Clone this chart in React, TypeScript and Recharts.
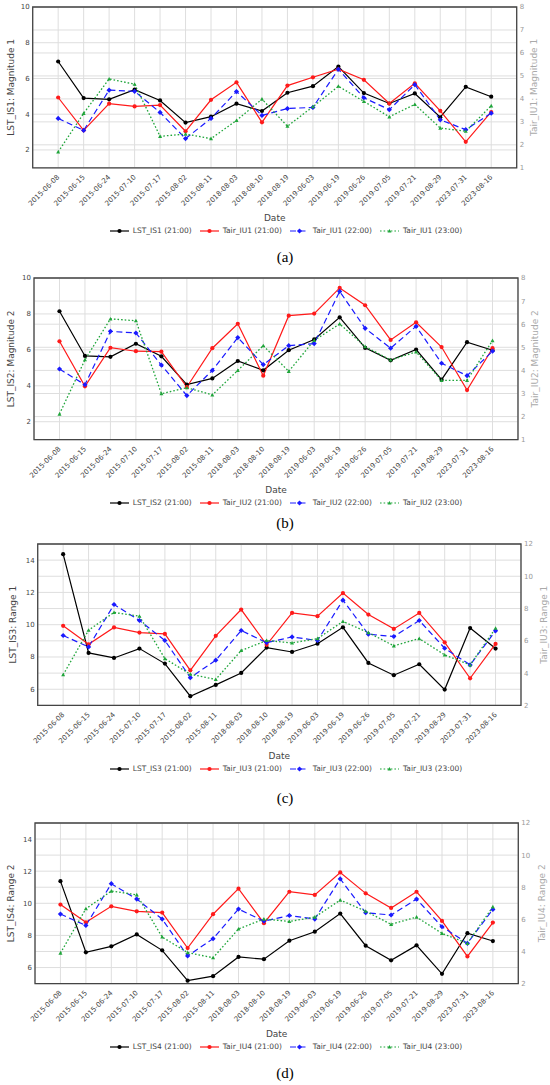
import React from 'react';
import { LineChart, Line, XAxis, YAxis, CartesianGrid, Legend, ReferenceArea, Label } from 'recharts';

const dates = [
  '2015-06-08', '2015-06-15', '2015-06-24', '2015-07-10', '2015-07-17', '2015-08-02',
  '2015-08-11', '2018-08-03', '2018-08-10', '2018-08-19', '2019-06-03', '2019-06-19',
  '2019-06-26', '2019-07-05', '2019-07-21', '2019-08-29', '2023-07-31', '2023-08-16',
];

// Panel (a)
const lstIS1 = [6.95, 4.9, 4.83, 5.37, 4.77, 3.53, 3.86, 4.59, 4.18, 5.2, 5.57, 6.67, 5.18, 4.6, 5.16, 3.83, 5.53, 4.98];
const tairIU1_21 = [4.06, 2.63, 3.79, 3.67, 3.73, 2.59, 3.96, 4.72, 2.98, 4.58, 4.94, 5.29, 4.83, 3.8, 4.68, 3.48, 2.13, 3.43];
const tairIU1_22 = [3.15, 2.63, 4.38, 4.33, 3.41, 2.27, 3.15, 4.32, 3.28, 3.58, 3.63, 5.29, 4.05, 3.53, 4.62, 3.09, 2.66, 3.38];
const tairIU1_23 = [1.69, 3.37, 4.87, 4.64, 2.37, 2.47, 2.27, 3.06, 3.99, 2.81, 3.66, 4.55, 3.89, 3.22, 3.76, 2.73, 2.59, 3.7];

// Panel (b)
const lstIS2 = [8.15, 5.66, 5.61, 6.34, 5.64, 4.07, 4.41, 5.38, 4.86, 5.98, 6.58, 7.81, 6.11, 5.42, 6.02, 4.34, 6.43, 5.98];
const tairIU2_21 = [5.26, 3.31, 4.98, 4.83, 4.81, 3.28, 4.96, 6.02, 3.77, 6.37, 6.46, 7.57, 6.82, 5.32, 6.08, 5.01, 3.15, 4.96];
const tairIU2_22 = [4.06, 3.38, 5.69, 5.62, 4.23, 2.91, 4.0, 5.42, 4.25, 5.07, 5.16, 7.42, 5.82, 4.96, 5.91, 4.31, 3.77, 4.83];
const tairIU2_23 = [2.11, 4.46, 6.23, 6.15, 2.99, 3.25, 2.94, 4.0, 5.07, 3.96, 5.3, 6.01, 5.03, 4.45, 4.8, 3.57, 3.57, 5.29];

// Panel (c)
const lstIS3 = [14.37, 8.25, 7.94, 8.52, 7.59, 5.57, 6.27, 7.01, 8.58, 8.31, 8.82, 9.84, 7.63, 6.87, 7.55, 5.98, 9.79, 8.52];
const tairIU3_21 = [6.93, 5.79, 6.83, 6.51, 6.43, 4.17, 6.31, 7.94, 5.75, 7.73, 7.53, 8.96, 7.63, 6.74, 7.73, 5.91, 3.68, 5.81];
const tairIU3_22 = [6.33, 5.62, 8.25, 7.26, 6.02, 3.72, 4.8, 6.64, 5.89, 6.24, 6.02, 8.52, 6.41, 6.27, 7.26, 5.54, 4.51, 6.62];
const tairIU3_23 = [3.9, 6.66, 7.76, 7.53, 4.9, 3.93, 3.61, 5.4, 6.02, 5.87, 6.14, 7.2, 6.51, 5.69, 6.14, 5.13, 4.51, 6.78];

// Panel (d)
const lstIS4 = [11.38, 6.95, 7.32, 8.06, 7.07, 5.18, 5.46, 6.66, 6.52, 7.67, 8.23, 9.36, 7.36, 6.45, 7.38, 5.61, 8.14, 7.65];
const tairIU4_21 = [6.92, 5.82, 6.81, 6.5, 6.42, 4.21, 6.32, 7.91, 5.76, 7.72, 7.52, 8.92, 7.62, 6.71, 7.72, 5.9, 3.69, 5.8];
const tairIU4_22 = [6.33, 5.62, 8.22, 7.26, 6.02, 3.72, 4.8, 6.64, 5.89, 6.24, 6.02, 8.52, 6.41, 6.27, 7.26, 5.54, 4.51, 6.62];
const tairIU4_23 = [3.9, 6.66, 7.76, 7.53, 4.9, 3.93, 3.61, 5.4, 6.02, 5.87, 6.14, 7.2, 6.51, 5.69, 6.14, 5.13, 4.51, 6.78];

const xTicks = dates.map((_, i) => i);
const leftTicksMag = [2, 4, 6, 8, 10];
const rightTicksMag = [1, 2, 3, 4, 5, 6, 7, 8];
const leftTicksRange = [6, 8, 10, 12, 14];
const rightTicksRange = [2, 4, 6, 8, 10, 12];

const FONT = 'DejaVu Sans, Verdana, sans-serif';

const seriesStyle: Record<string, { color: string; dash?: string; shape: string; r: number }> = {
  lst: { color: '#000000', shape: 'circle', r: 2.1 },
  t21: { color: '#ff1a1a', shape: 'circle', r: 2.1 },
  t22: { color: '#1a1aff', dash: '6 3.5', shape: 'diamond', r: 2.6 },
  t23: { color: '#1fa53a', dash: '1.6 2', shape: 'triangle', r: 2.0 },
};

const markerEl = (shape: string, cx: number, cy: number, r: number, color: string, key?: string) => {
  if (shape === 'diamond') {
    return <polygon key={key} points={`${cx},${cy - r} ${cx + r},${cy} ${cx},${cy + r} ${cx - r},${cy}`} fill={color} />;
  }
  if (shape === 'triangle') {
    return <polygon key={key} points={`${cx},${cy - r} ${cx + r},${cy + r * 0.8} ${cx - r},${cy + r * 0.8}`} fill={color} />;
  }
  return <circle key={key} cx={cx} cy={cy} r={r} fill={color} />;
};

const makeDot = (k: string) => (p: any) => {
  const s = seriesStyle[k];
  if (p.cx == null || p.cy == null) return <g key={`n${p.index}`} />;
  return markerEl(s.shape, p.cx, p.cy, s.r, s.color, `${k}-${p.index}`);
};

const DateTick = (props: any) => {
  const { x, y, payload } = props;
  return (
    <g transform={`translate(${x},${y})`}>
      <text x={0} y={0} dy="0.35em" textAnchor="end" transform="rotate(-45)" fontSize={7} fill="#444" fontFamily={FONT}>
        {dates[payload.value]}
      </text>
    </g>
  );
};

const renderLegend = (props: any) => {
  const payload = props.payload || [];
  return (
    <div style={{ display: 'flex', justifyContent: 'center', alignItems: 'center', paddingLeft: 30, fontSize: 7.5, color: '#444', whiteSpace: 'nowrap', lineHeight: '12px', fontFamily: FONT }}>
      {payload.map((e: any) => {
        const s = seriesStyle[e.dataKey];
        return (
          <div key={e.dataKey} style={{ display: 'flex', alignItems: 'center', marginRight: 8 }}>
            <svg width={19} height={10} style={{ display: 'block' }}>
              <line x1={0} y1={5} x2={19} y2={5} stroke={s.color} strokeWidth={1.2} strokeDasharray={s.dash} />
              {markerEl(s.shape, 9.5, 5, s.r, s.color)}
            </svg>
            <span style={{ marginLeft: 4 }}>{e.value}</span>
          </div>
        );
      })}
    </div>
  );
};

type PanelCfg = {
  lst: number[]; t21: number[]; t22: number[]; t23: number[];
  lstName: string; tName: string; leftTitle: string; rightTitle: string;
  leftDomain: [number, number]; leftTicks: number[]; rightDomain: [number, number]; rightTicks: number[];
  plotTop: number; plotBottom: number; plotLeft: number; plotRight: number;
  leftTitleX: number; rightTitleX: number; captionY: number; caption: string;
};

const panels: PanelCfg[] = [
  {
    lst: lstIS1, t21: tairIU1_21, t22: tairIU1_22, t23: tairIU1_23,
    lstName: 'LST_IS1 (21:00)', tName: 'Tair_IU1', leftTitle: 'LST_IS1: Magnitude 1', rightTitle: 'Tair_IU1: Magnitude 1',
    leftDomain: [1, 10], leftTicks: leftTicksMag, rightDomain: [1, 8], rightTicks: rightTicksMag,
    plotTop: 6.7, plotBottom: 167.5, plotLeft: 32.7, plotRight: 516.7, leftTitleX: 10.5, rightTitleX: 534, captionY: 257, caption: '(a)',
  },
  {
    lst: lstIS2, t21: tairIU2_21, t22: tairIU2_22, t23: tairIU2_23,
    lstName: 'LST_IS2 (21:00)', tName: 'Tair_IU2', leftTitle: 'LST_IS2: Magnitude 2', rightTitle: 'Tair_IU2: Magnitude 2',
    leftDomain: [1, 10], leftTicks: leftTicksMag, rightDomain: [1, 8], rightTicks: rightTicksMag,
    plotTop: 278.3, plotBottom: 440, plotLeft: 34, plotRight: 518, leftTitleX: 10.5, rightTitleX: 535, captionY: 523, caption: '(b)',
  },
  {
    lst: lstIS3, t21: tairIU3_21, t22: tairIU3_22, t23: tairIU3_23,
    lstName: 'LST_IS3 (21:00)', tName: 'Tair_IU3', leftTitle: 'LST_IS3: Range 1', rightTitle: 'Tair_IU3: Range 1',
    leftDomain: [5, 15], leftTicks: leftTicksRange, rightDomain: [2, 12], rightTicks: rightTicksRange,
    plotTop: 544.4, plotBottom: 705.8, plotLeft: 37.7, plotRight: 521, leftTitleX: 12.7, rightTitleX: 544, captionY: 798, caption: '(c)',
  },
  {
    lst: lstIS4, t21: tairIU4_21, t22: tairIU4_22, t23: tairIU4_23,
    lstName: 'LST_IS4 (21:00)', tName: 'Tair_IU4', leftTitle: 'LST_IS4: Range 2', rightTitle: 'Tair_IU4: Range 2',
    leftDomain: [5, 15], leftTicks: leftTicksRange, rightDomain: [2, 12], rightTicks: rightTicksRange,
    plotTop: 822.7, plotBottom: 983.3, plotLeft: 35, plotRight: 518.3, leftTitleX: 11, rightTitleX: 541.7, captionY: 1073, caption: '(d)',
  },
];

const TOPPAD = 5;
const XAXIS_H = 80;

const Panel = ({ cfg }: { cfg: PanelCfg }) => {
  const data = dates.map((d, i) => ({ i, date: d, lst: cfg.lst[i], t21: cfg.t21[i], t22: cfg.t22[i], t23: cfg.t23[i] }));
  const plotH = cfg.plotBottom - cfg.plotTop;
  const H = TOPPAD + plotH + XAXIS_H;
  const containerTop = cfg.plotTop - TOPPAD;
  const midY = TOPPAD + plotH / 2;
  return (
    <div style={{ position: 'absolute', left: 0, top: containerTop, width: 550, height: H, fontFamily: FONT }}>
      <LineChart width={550} height={H} data={data} margin={{ top: TOPPAD, right: 0, bottom: 0, left: 0 }}>
        <CartesianGrid yAxisId="left" stroke="#dedede" strokeWidth={1} vertical={true} horizontal={true} />
        <CartesianGrid yAxisId="right" stroke="#dedede" strokeWidth={1} vertical={false} horizontal={true} />
        <XAxis
          xAxisId={0}
          type="number"
          dataKey="i"
          domain={[-1, 18]}
          ticks={xTicks}
          interval={0}
          tick={<DateTick />}
          tickSize={0}
          tickMargin={8}
          axisLine={false}
          tickLine={false}
          height={XAXIS_H}
          allowDataOverflow
        >
          <Label
            content={(p: any) => {
              const vb = p.viewBox || {};
              return (
                <text x={(vb.x ?? cfg.plotLeft) + (vb.width ?? 0) / 2} y={(vb.y ?? 0) + 50.5} dy="0.35em" textAnchor="middle" fontSize={9} fill="#444" fontFamily={FONT}>
                  Date
                </text>
              );
            }}
          />
        </XAxis>
        <YAxis
          yAxisId="left"
          orientation="left"
          width={cfg.plotLeft}
          domain={cfg.leftDomain}
          ticks={cfg.leftTicks}
          interval={0}
          allowDataOverflow
          axisLine={false}
          tickLine={false}
          tickSize={0}
          tickMargin={3}
          tick={{ fontSize: 7, fill: '#444', fontFamily: FONT }}
        >
          <Label
            content={() => (
              <text x={cfg.leftTitleX} y={midY} dy="0.35em" textAnchor="middle" fontSize={9} fill="#444" fontFamily={FONT} transform={`rotate(-90, ${cfg.leftTitleX}, ${midY})`}>
                {cfg.leftTitle}
              </text>
            )}
          />
        </YAxis>
        <YAxis
          yAxisId="right"
          orientation="right"
          width={550 - cfg.plotRight}
          domain={cfg.rightDomain}
          ticks={cfg.rightTicks}
          interval={0}
          allowDataOverflow
          axisLine={false}
          tickLine={false}
          tickSize={0}
          tickMargin={3}
          tick={{ fontSize: 7, fill: '#999', fontFamily: FONT }}
        >
          <Label
            content={() => (
              <text x={cfg.rightTitleX} y={midY} dy="0.35em" textAnchor="middle" fontSize={9} fill="#aaa" fontFamily={FONT} transform={`rotate(-90, ${cfg.rightTitleX}, ${midY})`}>
                {cfg.rightTitle}
              </text>
            )}
          />
        </YAxis>
        <ReferenceArea
          yAxisId="left"
          x1={-1}
          x2={18}
          y1={cfg.leftDomain[0]}
          y2={cfg.leftDomain[1]}
          fill="none"
          fillOpacity={0}
          stroke="#444"
          strokeWidth={1.3}
          ifOverflow="visible"
        />
        <Line yAxisId="left" dataKey="lst" name={cfg.lstName} stroke={seriesStyle.lst.color} strokeWidth={1.2} dot={makeDot('lst')} activeDot={false} isAnimationActive={false} />
        <Line yAxisId="right" dataKey="t21" name={`${cfg.tName} (21:00)`} stroke={seriesStyle.t21.color} strokeWidth={1.2} dot={makeDot('t21')} activeDot={false} isAnimationActive={false} />
        <Line yAxisId="right" dataKey="t22" name={`${cfg.tName} (22:00)`} stroke={seriesStyle.t22.color} strokeWidth={1.2} strokeDasharray={seriesStyle.t22.dash} dot={makeDot('t22')} activeDot={false} isAnimationActive={false} />
        <Line yAxisId="right" dataKey="t23" name={`${cfg.tName} (23:00)`} stroke={seriesStyle.t23.color} strokeWidth={1.3} strokeDasharray={seriesStyle.t23.dash} dot={makeDot('t23')} activeDot={false} isAnimationActive={false} />
        <Legend
          layout="horizontal"
          verticalAlign="middle"
          align="center"
          content={renderLegend}
          wrapperStyle={{ top: TOPPAD + plotH + 63.5 - 6, left: 0, width: 550, height: 12 }}
        />
      </LineChart>
    </div>
  );
};

export default function App() {
  return (
    <div style={{ position: 'absolute', left: 0, top: 0, width: 550, height: 1085, background: '#fff', overflow: 'hidden' }}>
      {panels.map((p) => (
        <React.Fragment key={p.caption}>
          <Panel cfg={p} />
          <div
            style={{
              position: 'absolute',
              left: 235,
              width: 100,
              top: p.captionY - 10,
              height: 20,
              lineHeight: '20px',
              textAlign: 'center',
              fontSize: 15,
              fontFamily: 'Liberation Serif, Times New Roman, serif',
              color: '#000',
            }}
          >
            {p.caption}
          </div>
        </React.Fragment>
      ))}
    </div>
  );
}
